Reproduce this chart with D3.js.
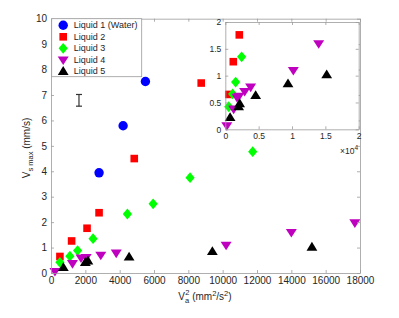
<!DOCTYPE html>
<html>
<head>
<meta charset="utf-8">
<script src="https://cdn.jsdelivr.net/npm/d3@7"></script>
<style>
  body { margin: 0; background: #fff; }
  text { font-family: "Liberation Sans", Arial, sans-serif; fill: #262626; }
</style>
</head>
<body>
<script>
// Va^2 (mm^2/s^2) and Vs max (mm/s) for each liquid
const liquid1X = [2800, 4200, 5500];
const liquid1Y = [3.94, 5.79, 7.53];
const liquid2X = [520, 1200, 2100, 2800, 4850, 8750];
const liquid2Y = [0.65, 1.26, 1.76, 2.37, 4.5, 7.47];
const liquid3X = [520, 1100, 1550, 2450, 4450, 5950, 8100, 11750];
const liquid3Y = [0.42, 0.66, 0.88, 1.35, 2.32, 2.72, 3.75, 4.77];
const liquid4X = [230, 1250, 1750, 2050, 2900, 3800, 10200, 14000, 17700];
const liquid4Y = [0.07, 0.38, 0.6, 0.62, 0.71, 0.79, 1.1, 1.6, 1.98];
const liquid5X = [720, 2000, 2150, 4550, 9400, 15200];
const liquid5Y = [0.22, 0.42, 0.48, 0.63, 0.85, 1.02];

const names = ["Liquid 1 (Water)", "Liquid 2", "Liquid 3", "Liquid 4", "Liquid 5"];
const colors = ["#0000ff", "#ff0000", "#00ff00", "#bf00bf", "#000000"];
const markers = ["circle", "square", "diamond", "down", "up"];

// single representative error bar
const errX = [1630];
const errY = [6.79];
const errH = [0.23];

const mainXTicks = d3.range(0, 18001, 2000);
const mainYTicks = d3.range(0, 11, 1);
const insetXTicks = [0, 5000, 10000, 15000, 20000];
const insetYTicks = [0, 0.5, 1, 1.5, 2];
const insetYMax = 1.9; // zoomed view only shows the low-speed points

const series = [
  {x: liquid1X, y: liquid1Y},
  {x: liquid2X, y: liquid2Y},
  {x: liquid3X, y: liquid3Y},
  {x: liquid4X, y: liquid4Y},
  {x: liquid5X, y: liquid5Y}
].map((s, i) => ({
  name: names[i], color: colors[i], marker: markers[i],
  points: s.x.map((v, j) => [v, s.y[j]])
}));

const W = 399, H = 318;
const svg = d3.select("body").append("svg").attr("width", W).attr("height", H);

function markerPath(type) {
  const p = d3.path();
  if (type === "circle") {
    p.arc(0, 0, 4.7, 0, 2 * Math.PI);
  } else if (type === "square") {
    p.rect(-3.8, -3.8, 7.6, 7.6);
  } else if (type === "diamond") {
    p.moveTo(0, -5.4); p.lineTo(4.6, 0); p.lineTo(0, 5.4); p.lineTo(-4.6, 0); p.closePath();
  } else if (type === "down") {
    p.moveTo(-5.5, -3.3); p.lineTo(5.5, -3.3); p.lineTo(0, 5.3); p.closePath();
  } else {
    p.moveTo(-5.4, 3.6); p.lineTo(5.4, 3.6); p.lineTo(0, -5.2); p.closePath();
  }
  return p.toString();
}

function drawMarks(g, x, y, keep = () => true) {
  series.forEach(s => {
    g.append("g").selectAll("path")
      .data(s.points.filter(keep))
      .join("path")
      .attr("d", markerPath(s.marker))
      .attr("transform", d => `translate(${x(d[0])},${y(d[1])})`)
      .attr("fill", s.color);
  });
}

function drawFrame(g, x, y, xTicks, yTicks, xFmt, yFmt, fs) {
  const [x0, x1] = x.range();
  const [y0, y1] = y.range();
  const bottom = g.append("g").attr("transform", `translate(0,${y0})`)
    .call(d3.axisBottom(x).tickValues(xTicks).tickFormat(xFmt).tickSizeInner(-3).tickSizeOuter(0).tickPadding(4));
  const left = g.append("g").attr("transform", `translate(${x0},0)`)
    .call(d3.axisLeft(y).tickValues(yTicks).tickFormat(yFmt).tickSizeInner(-3).tickSizeOuter(0).tickPadding(4));
  const top = g.append("g").attr("transform", `translate(0,${y1})`)
    .call(d3.axisTop(x).tickValues(xTicks).tickFormat("").tickSizeInner(-3).tickSizeOuter(0));
  const right = g.append("g").attr("transform", `translate(${x1},0)`)
    .call(d3.axisRight(y).tickValues(yTicks).tickFormat("").tickSizeInner(-3).tickSizeOuter(0));
  [bottom, left, top, right].forEach(a => {
    a.selectAll("path.domain").attr("stroke", "#9a9a9a").attr("stroke-width", 0.8);
    a.selectAll(".tick line").attr("stroke", "#9a9a9a").attr("stroke-width", 0.8);
    a.selectAll("text").attr("font-size", fs).attr("font-family", null).attr("fill", "#262626");
  });
}

// ---------- main axes ----------
const x = d3.scaleLinear().domain([0, 18000]).range([51, 360]);
const y = d3.scaleLinear().domain([0, 10]).range([273, 18.7]);

const main = svg.append("g");
drawMarks(main, x, y);
drawFrame(main, x, y, mainXTicks, mainYTicks, d3.format("d"), d3.format("d"), 10);

// error bar
const eb = main.append("g").attr("stroke", "#333").attr("stroke-width", 1.2);
errX.forEach((v, i) => {
  const cx = x(v), ya = y(errY[i] - errH[i]), yb = y(errY[i] + errH[i]);
  eb.append("line").attr("x1", cx).attr("x2", cx).attr("y1", ya).attr("y2", yb);
  eb.append("line").attr("x1", cx - 3).attr("x2", cx + 3).attr("y1", ya).attr("y2", ya);
  eb.append("line").attr("x1", cx - 3).attr("x2", cx + 3).attr("y1", yb).attr("y2", yb);
});

// axis labels
const xl = svg.append("text").attr("x", 205).attr("y", 300).attr("text-anchor", "middle").attr("font-size", 10);
xl.append("tspan").text("V");
xl.append("tspan").attr("font-size", 7.5).attr("dy", 3).text("a");
xl.append("tspan").attr("font-size", 7.5).attr("dx", -4).attr("dy", -8).text("2");
xl.append("tspan").attr("dy", 5).text(" (mm");
xl.append("tspan").attr("font-size", 7.5).attr("dy", -4).text("2");
xl.append("tspan").attr("dy", 4).text("/s");
xl.append("tspan").attr("font-size", 7.5).attr("dy", -4).text("2");
xl.append("tspan").attr("dy", 4).text(")");

const yl = svg.append("text").attr("transform", "translate(30,148) rotate(-90)")
  .attr("text-anchor", "middle").attr("font-size", 10);
yl.append("tspan").text("V");
yl.append("tspan").attr("font-size", 7.5).attr("dy", 3).text("s max");
yl.append("tspan").attr("dy", -3).text(" (mm/s)");

// legend
const lg = svg.append("g").attr("transform", "translate(51.7,18.7)");
lg.append("rect").attr("width", 90).attr("height", 58).attr("fill", "#fff")
  .attr("stroke", "#9a9a9a").attr("stroke-width", 0.8);
series.forEach((s, i) => {
  const ly = 6.6 + i * 11.5;
  lg.append("path").attr("d", markerPath(s.marker))
    .attr("transform", `translate(11.5,${ly})`).attr("fill", s.color);
  lg.append("text").attr("x", 22).attr("y", ly).attr("dy", "0.35em")
    .attr("font-size", 9).attr("fill", "#000").text(s.name);
});

// ---------- inset ----------
const xi = d3.scaleLinear().domain([0, 20000]).range([225.3, 358.7]);
const yi = d3.scaleLinear().domain([0, 2]).range([129.3, 22]);
const inset = svg.append("g");
inset.append("rect").attr("x", 225.3).attr("y", 22).attr("width", 133.4).attr("height", 107.3).attr("fill", "#fff");
inset.append("clipPath").attr("id", "ic").append("rect")
  .attr("x", 220).attr("y", 22).attr("width", 139).attr("height", 113);
drawMarks(inset.append("g").attr("clip-path", "url(#ic)"), xi, yi, d => d[1] < insetYMax);
drawFrame(inset, xi, yi, insetXTicks, insetYTicks, d => d3.format("")(d / 10000), d3.format(""), 8.5);

const ex = svg.append("text").attr("x", 340).attr("y", 154).attr("font-size", 8.5);
ex.append("tspan").text("\u00d710");
ex.append("tspan").attr("font-size", 6.5).attr("dy", -4).text("4");
</script>
</body>
</html>
